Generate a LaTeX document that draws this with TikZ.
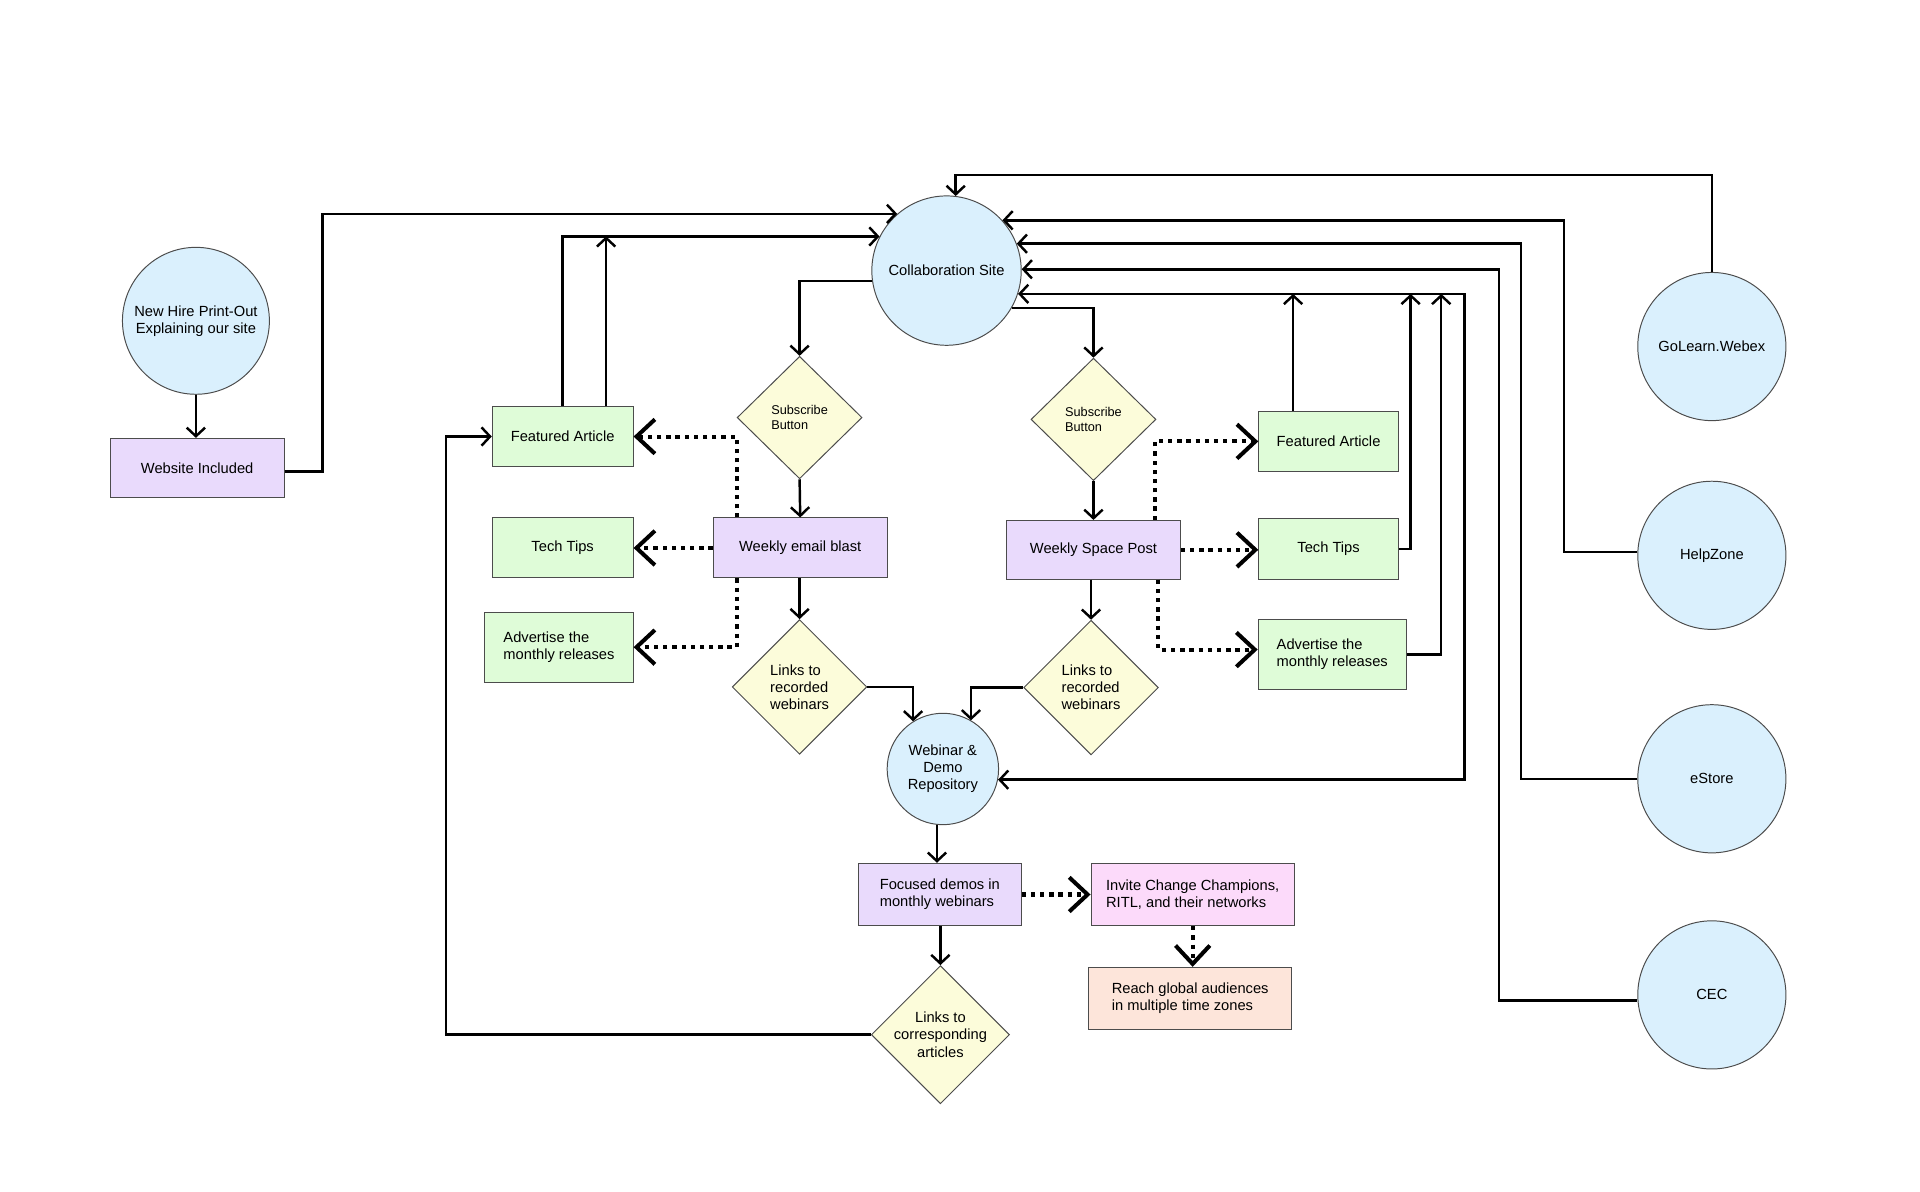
\documentclass[tikz,border=0pt]{standalone}
\usepackage{fontspec}
\setmainfont{Liberation Sans}
\usetikzlibrary{arrows.meta, shapes.geometric}

\definecolor{hubblue}{RGB}{218,240,253}
\definecolor{taskpurple}{RGB}{233,218,252}
\definecolor{notegreen}{RGB}{223,252,216}
\definecolor{gateyellow}{RGB}{252,252,218}
\definecolor{invitepink}{RGB}{252,218,250}
\definecolor{reachpeach}{RGB}{253,229,218}

\begin{document}
\begin{tikzpicture}[x = 1pt, y = -1pt,
font = \fontsize{12}{14}\selectfont,
vertex/.style = { circle, draw = black!70, line width = 0.8pt, fill = hubblue, inner sep = 0pt, align = center},
task/.style = { rectangle, draw = black!70, line width = 0.8pt, fill = taskpurple, inner sep = 0pt, align = center},
note/.style = { task, fill = notegreen},
gate/.style = { diamond, draw = black!70, line width = 0.8pt, fill = gateyellow, inner sep = 0pt,
minimum width = 110pt, minimum height = 110pt, align = left},
gate_small/.style = { gate, font = \fontsize{10.4}{12}\selectfont, minimum width = 102pt, minimum height = 100pt},
arc_main/.style = { line width = 2pt, -{Straight Barb[length = 7pt, width = 15pt]}},
arc_both/.style = { line width = 2pt, {Straight Barb[length = 7pt, width = 15pt]}-{Straight Barb[length = 7pt, width = 15pt]}},
arc_dot/.style = { line width = 3.3pt, dash pattern = on 3.5pt off 4pt, -{Straight Barb[length = 15pt, width = 28pt]}}]
\useasboundingbox (0,0) rectangle (1568,973);

\node[vertex, minimum size = 120pt] (newhire) at (160,262) {New Hire Print-Out\\Explaining our site};
\node[task, minimum width = 142pt, minimum height = 48pt] (website) at (161,382) {Website Included};
\node[vertex, minimum size = 122pt] (collab) at (773,221) {Collaboration Site};
\node[gate_small] (subL) at (653,341) {Subscribe\\Button};
\node[gate_small] (subR) at (893,342.5) {Subscribe\\Button};
\node[task, minimum width = 142pt, minimum height = 49pt] (email) at (653.5,447.5) {Weekly email blast};
\node[task, minimum width = 142pt, minimum height = 48pt] (space) at (893,449) {Weekly Space Post};
\node[note, minimum width = 115pt, minimum height = 49pt] (featL) at (459.5,356.5) {Featured Article};
\node[note, minimum width = 115pt, minimum height = 49pt] (techL) at (459.5,447.5) {Tech Tips};
\node[note, align = left, minimum width = 121pt, minimum height = 57pt] (advL) at (456.5,528.5) {Advertise the\\monthly releases};
\node[note, minimum width = 114pt, minimum height = 49pt] (featR) at (1085,360.5) {Featured Article};
\node[note, minimum width = 114pt, minimum height = 50pt] (techR) at (1085,448.5) {Tech Tips};
\node[note, align = left, minimum width = 121pt, minimum height = 57pt] (advR) at (1088,534.5) {Advertise the\\monthly releases};
\node[gate] (linksL) at (653,561) {Links to\\recorded\\webinars};
\node[gate] (linksR) at (891,561.5) {Links to\\recorded\\webinars};
\node[vertex, minimum size = 91pt] (repo) at (770,628) {Webinar \&\\Demo\\Repository};
\node[task, align = left, minimum width = 133pt, minimum height = 51pt] (focused) at (767.5,730.5) {Focused demos in\\monthly webinars};
\node[task, fill = invitepink, align = left, minimum width = 166pt, minimum height = 51pt] (invite) at (974,730.5) {Invite Change Champions,\\RITL, and their networks};
\node[task, fill = reachpeach, align = left, minimum width = 166pt, minimum height = 51pt] (reach) at (972,815.5) {Reach global audiences\\in multiple time zones};
\node[gate, align = center] (linksArt) at (768,845) {Links to\\corresponding\\articles};
\node[vertex, minimum size = 121pt] (golearn) at (1398,283) {GoLearn.Webex};
\node[vertex, minimum size = 121pt] (helpzone) at (1398,453.5) {HelpZone};
\node[vertex, minimum size = 121pt] (estore) at (1398,636) {eStore};
\node[vertex, minimum size = 121pt] (cec) at (1398,812.5) {CEC};

\coordinate (featLup) at (495,193);
\coordinate (featRup) at (1056,240);
\coordinate (techRup) at (1152,240);
\coordinate (advRup) at (1177,240);
\coordinate (loopx) at (1196,240);

% into the collaboration site
\draw[arc_main] (newhire.south) -- (newhire.south |- website.north);
\draw[arc_main] ([yshift=-3pt]website.east) -- ++(31,0) |- (collab.131);
\draw[arc_main] (featL.north) |- (collab.153);
\draw[arc_main] (featLup |- featL.north) -- (featLup);
\draw[arc_main] (golearn.north) -- ++(0,-79) -| (collab.83);
\draw[arc_main] ([yshift=2.5pt]helpzone.west) -- ++(-60,0) |- (collab.42);
\draw[arc_main] (estore.west) -- ++(-95,0) |- (collab.21);
\draw[arc_main] ([yshift=-4.5pt]cec.west) -- ++(-113,0) |- (collab.1);
\draw[arc_both] (collab.-18) -| (loopx) |- (repo.-11);
\draw[arc_main] (featRup |- featR.north) -- (featRup);
\draw[arc_main] (techR.east) -| (techRup);
\draw[arc_main] (advR.east) -| (advRup);

% down through the two channels
\draw[arc_main] (collab.188) -| (subL.north);
\draw[arc_main] (collab.-30) -| (subR.north);
\draw[arc_main] (subL.south) -- (email.north);
\draw[arc_main] (subR.south) -- (subR.south |- space.north);
\draw[arc_main] (linksL.north |- email.south) -- (linksL.north);
\draw[arc_main] (linksR.north |- space.south) -- (linksR.north);
\draw[arc_main] (linksL.east) -| (repo.122);
\draw[arc_main] (linksR.west) -| (repo.60);
\draw[arc_main] (repo.-96) -- (repo.-96 |- focused.north);
\draw[arc_main] (linksArt.north |- focused.south) -- (linksArt.north);
\draw[arc_main] (linksArt.west) -- ++(-347,0) |- (featL.west);

% dotted pushes
\draw[arc_dot] ([xshift=-52pt]email.north) |- (featL.east);
\draw[arc_dot] (email.west) -- (techL.east);
\draw[arc_dot] ([xshift=-52pt]email.south) |- (advL.east);
\draw[arc_dot] ([xshift=50pt]space.north) |- (featR.west);
\draw[arc_dot] (space.east) -- (space.east -| techR.west);
\draw[arc_dot] ([xshift=53pt]space.south) |- ([yshift=4pt]advR.west);
\draw[arc_dot] (focused.east) -- (invite.west);
\draw[arc_dot] (invite.south) -- (invite.south |- reach.north);
\end{tikzpicture}
\end{document}
